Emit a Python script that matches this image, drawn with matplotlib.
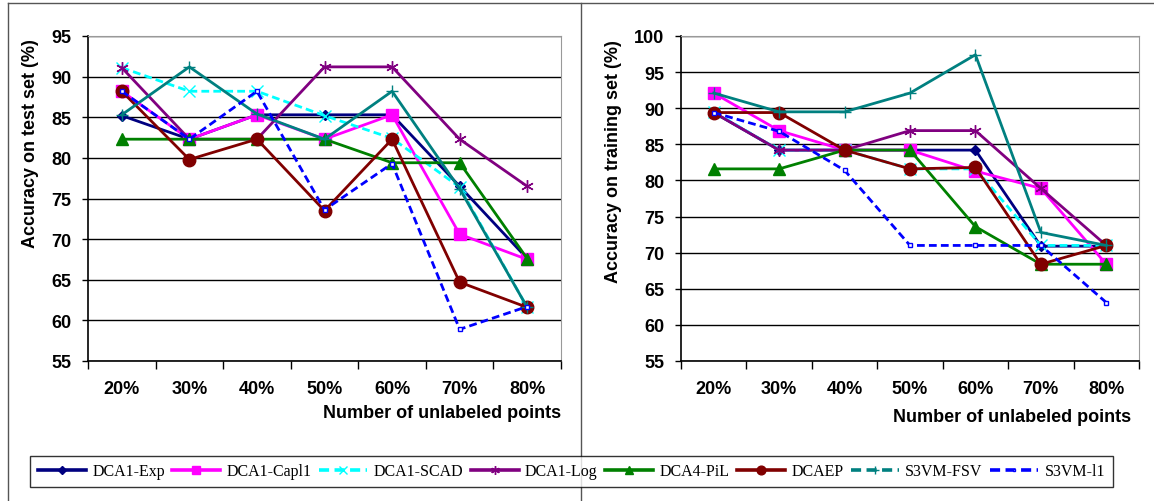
import matplotlib.pyplot as plt
from matplotlib.lines import Line2D

# unlabeled fraction categories
categories = ['20%', '30%', '40%', '50%', '60%', '70%', '80%']

# accuracy on test set (%)
test_exp = [85.2, 82.3, 85.3, 85.3, 85.3, 76.5, 67.6]
test_capl1 = [88.2, 82.3, 85.3, 82.3, 85.3, 70.6, 67.5]
test_scad = [91.1, 88.2, 88.2, 85.2, 82.4, 76.4, 61.6]
test_log = [91.1, 82.3, 82.3, 91.2, 91.2, 82.3, 76.5]
test_pil = [82.3, 82.3, 82.3, 82.3, 79.4, 79.4, 67.6]
test_dcaep = [88.2, 79.8, 82.3, 73.5, 82.3, 64.7, 61.6]
test_fsv = [85.3, 91.2, 85.4, 82.3, 88.2, 76.2, 61.6]
test_l1 = [88.2, 82.3, 88.2, 73.6, 79.3, 58.9, 61.7]

# accuracy on training set (%)
train_exp = [89.4, 84.2, 84.2, 84.2, 84.2, 70.9, 70.9]
train_capl1 = [92.1, 86.9, 84.2, 84.2, 81.3, 78.9, 68.4]
train_scad = [89.5, 84.2, 84.2, 81.6, 81.6, 71.0, 71.0]
train_log = [89.4, 84.2, 84.2, 86.9, 86.9, 78.9, 71.0]
train_pil = [81.6, 81.6, 84.2, 84.2, 73.6, 68.4, 68.4]
train_dcaep = [89.4, 89.4, 84.2, 81.6, 81.8, 68.4, 71.0]
train_fsv = [92.1, 89.5, 89.5, 92.1, 97.4, 72.8, 71.0]
train_l1 = [89.4, 86.8, 81.4, 71.0, 71.0, 71.0, 63.1]

names = ['DCA1-Exp', 'DCA1-Capl1', 'DCA1-SCAD', 'DCA1-Log',
         'DCA4-PiL', 'DCAEP', 'S3VM-FSV', 'S3VM-l1']

DASH = (0, (2.8, 1.5))
styles = [
    dict(color='#000080', marker='D', ms=5.5, ls='-'),
    dict(color='#FF00FF', marker='s', ms=8, ls='-'),
    dict(color='#00FFFF', marker='x', ms=8, mew=1, ls=DASH),
    dict(color='#800080', marker=(6, 2, 0), ms=9, mew=1, ls='-'),
    dict(color='#008000', marker='^', ms=8.5, ls='-'),
    dict(color='#800000', marker='o', ms=9, ls='-'),
    dict(color='#008080', marker='+', ms=9, mew=1, ls='-'),
    dict(color='#0000FF', marker='s', ms=3, mew=1, mfc='white', ls=DASH),
]

FS = 13
W, H = 1154, 502
fig = plt.figure(figsize=(W / 100, H / 100), dpi=100)
plt.rcParams['font.family'] = 'Liberation Sans'


def make_axes(rect, series, ymin, ymax):
    ax = fig.add_axes(rect)
    x = list(range(len(categories)))
    for vals, st in zip(series, styles):
        ax.plot(x, vals, lw=2.0, **st)
    ax.set_xlim(-0.5, len(categories) - 0.5)
    ax.set_ylim(ymin, ymax)
    ax.set_yticks(range(ymin, ymax + 1, 5))
    ax.yaxis.grid(True, color='black', lw=1)
    ax.set_axisbelow(True)
    ax.set_xticks(x)
    ax.set_xticklabels(categories)
    ax.set_xticks([i - 0.5 for i in range(len(categories) + 1)], minor=True)
    ax.tick_params(axis='x', which='major', length=0, pad=14)
    ax.tick_params(axis='x', which='minor', length=6, direction='out', width=1)
    ax.tick_params(axis='y', length=4, width=1, pad=8)
    for lab in ax.get_xticklabels() + ax.get_yticklabels():
        lab.set_fontsize(FS)
        lab.set_fontweight('bold')
    ax.spines['top'].set_color('#999999')
    ax.spines['right'].set_color('#999999')
    ax.spines['left'].set_linewidth(1.2)
    ax.spines['bottom'].set_linewidth(1.2)
    return ax


bottom = (H - 362) / H
height = 325 / H
ax1 = make_axes([88 / W, bottom, 473 / W, height],
                [test_exp, test_capl1, test_scad, test_log,
                 test_pil, test_dcaep, test_fsv, test_l1], 55, 95)
ax2 = make_axes([681 / W, bottom, 458 / W, height],
                [train_exp, train_capl1, train_scad, train_log,
                 train_pil, train_dcaep, train_fsv, train_l1], 55, 100)

ax1.text(1.0, -(413 - 362) / 325, 'Number of unlabeled points', transform=ax1.transAxes,
         ha='right', va='center', fontsize=FS, fontweight='bold')
ax2.text((1131 - 681) / 458, -(418 - 362) / 325, 'Number of unlabeled points',
         transform=ax2.transAxes, ha='right', va='center', fontsize=FS, fontweight='bold')
fig.text(31 / W, 1 - 144 / H, 'Accuracy on test set (%)', rotation=90,
         ha='center', va='center', fontsize=FS, fontweight='bold')
fig.text(614 / W, 1 - 162 / H, 'Accuracy on training set (%)', rotation=90,
         ha='center', va='center', fontsize=FS, fontweight='bold')

# panel frame lines
for xs, ys in [((8 / W, 1.0), (1 - 4 / H, 1 - 4 / H)),
               ((8 / W, 8 / W), (0, 1 - 4 / H)),
               ((581 / W, 581 / W), (0, 1 - 4 / H))]:
    fig.add_artist(Line2D(xs, ys, transform=fig.transFigure, color='#555555', lw=1))

# legend (the FSV entry is drawn dashed in the legend)
handles = []
for i, st in enumerate(styles):
    st = dict(st)
    st['ms'] = st['ms'] * 0.7
    if i == 6:
        st['ls'] = DASH
    handles.append(Line2D([], [], lw=2.6, **st))
leg = fig.legend(handles, names, loc='center', ncol=8, mode='expand',
                 bbox_to_anchor=(30 / W, 1 - 489 / H, 1083 / W, 33 / H),
                 prop={'family': 'Liberation Serif', 'size': 11.5},
                 handlelength=3.0, handletextpad=0.4, columnspacing=0.6,
                 fancybox=False, borderaxespad=0, borderpad=0.5)
leg.get_frame().set_edgecolor('black')
leg.get_frame().set_linewidth(1)

fig.savefig('out.png', dpi=100)
